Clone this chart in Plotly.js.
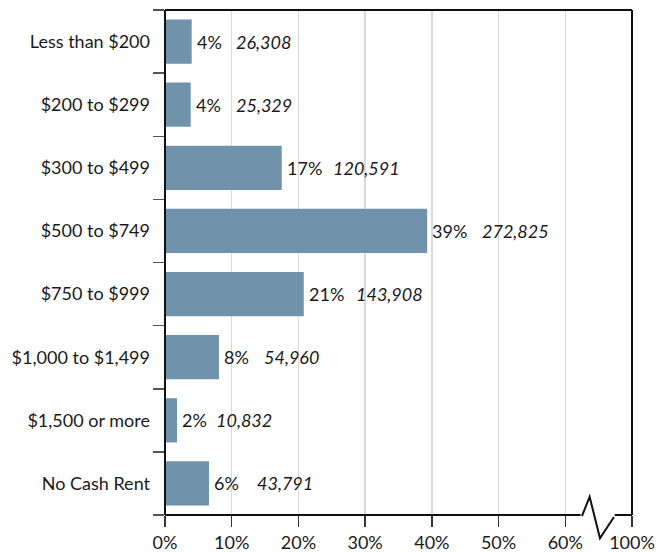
<!DOCTYPE html>
<html>
<head>
<meta charset="utf-8">
<script src="https://cdn.plot.ly/plotly-3.0.1.min.js"></script>
<style>html,body{margin:0;padding:0;background:#fff;}#chart{width:661px;height:552px;}</style>
</head>
<body>
<div id="chart"></div>
<script>
// ---- data ----
const categories = ["Less than $200", "$200 to $299", "$300 to $499", "$500 to $749",
                    "$750 to $999", "$1,000 to $1,499", "$1,500 or more", "No Cash Rent"];
const percentValues = [4.0, 3.85, 17.5, 39.3, 20.8, 8.1, 1.8, 6.6];
const percentLabels = ["4%", "4%", "17%", "39%", "21%", "8%", "2%", "6%"];
const countLabels = ["26,308", "25,329", "120,591", "272,825", "143,908", "54,960", "10,832", "43,791"];
const tickValues = [0, 10, 20, 30, 40, 50, 60, 70];
const tickLabels = ["0%", "10%", "20%", "30%", "40%", "50%", "60%", "100%"];

// ---- styling ----
const FONT = "Lato, 'Open Sans', sans-serif";
const FS = 18;
const countShift = [42, 43, 49, 53, 50, 43, 37, 46];
const barColor = "#7192ab";

const trace = {
  type: "bar",
  orientation: "h",
  y: categories,
  x: percentValues,
  marker: {color: barColor, line: {width: 0}},
  hoverinfo: "skip"
};

// invisible trace on a linear overlay axis so category-boundary ticks can be drawn
const boundaryIdx = categories.map((c, i) => i - 0.5).concat([categories.length - 0.5]);
const tickTrace = {
  type: "scatter", mode: "markers", x: [null], y: [null],
  xaxis: "x", yaxis: "y2", hoverinfo: "skip", showlegend: false
};

const annotations = [];
categories.forEach((c, i) => {
  annotations.push({
    x: percentValues[i], y: c, xref: "x", yref: "y",
    text: percentLabels[i], showarrow: false,
    xanchor: "left", yanchor: "middle", xshift: 3,
    font: {family: FONT, size: FS, color: "#1a1a1a"}
  });
  annotations.push({
    x: percentValues[i], y: c, xref: "x", yref: "y",
    text: countLabels[i], showarrow: false,
    xanchor: "left", yanchor: "middle", xshift: countShift[i],
    font: {family: FONT, size: FS, color: "#1a1a1a", style: "italic"}
  });
});

const lineStyle = {color: "#111", width: 2};
const shapes = [
  {type: "line", xref: "paper", yref: "paper", x0: 0, x1: 0, y0: 0, y1: 1, line: lineStyle, layer: "above"},
  {type: "line", xref: "paper", yref: "paper", x0: 0, x1: 1, y0: 1, y1: 1, line: lineStyle, layer: "above"},
  {type: "line", xref: "paper", yref: "paper", x0: 1, x1: 1, y0: 0, y1: 1, line: lineStyle, layer: "above"},
  {type: "path", xref: "x", yref: "paper",
   path: "M0,0 L62.3,0 M62.5,-0.002 L63.65,0.036 L65.2,-0.046 L67.3,-0.004 M67.4,0 L70,0",
   line: lineStyle, layer: "above"}
];

const layout = {
  width: 661, height: 552,
  margin: {l: 165, r: 29, t: 10, b: 37, pad: 0},
  paper_bgcolor: "#fff", plot_bgcolor: "#fff",
  showlegend: false,
  bargap: 0.3,
  font: {family: FONT, size: FS, color: "#1a1a1a"},
  xaxis: {
    range: [0, 70], fixedrange: true,
    tickmode: "array", tickvals: tickValues, ticktext: tickLabels,
    ticks: "outside", ticklen: 11, tickwidth: 1.5, tickcolor: "#333",
    showgrid: true, gridcolor: "#d9d9d9", gridwidth: 1.5,
    zeroline: false, showline: false,
    tickfont: {family: FONT, size: FS, color: "#1a1a1a"}
  },
  yaxis: {
    type: "category", autorange: "reversed", fixedrange: true,
    categoryorder: "array", categoryarray: categories,
    ticks: "", ticklabelstandoff: 14,
    showgrid: false, zeroline: false, showline: false,
    tickfont: {family: FONT, size: FS, color: "#1a1a1a"}
  },
  yaxis2: {
    overlaying: "y", side: "left", type: "linear",
    range: [categories.length - 0.5, -0.5], fixedrange: true,
    tickmode: "array", tickvals: boundaryIdx, showticklabels: false,
    ticks: "outside", ticklen: 11, tickwidth: 1.5, tickcolor: "#555",
    showgrid: false, zeroline: false, showline: false
  },
  annotations: annotations,
  shapes: shapes
};

Plotly.newPlot("chart", [trace, tickTrace], layout, {displayModeBar: false, staticPlot: true});
</script>
</body>
</html>
